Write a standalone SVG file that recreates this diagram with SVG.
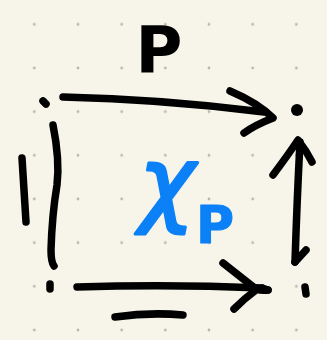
<svg xmlns="http://www.w3.org/2000/svg" width="327" height="340" viewBox="0 0 327 340">
<defs>
<style>
.ink{fill:none;stroke:#000;stroke-width:7.5;stroke-linecap:round;stroke-linejoin:round}
.dot{fill:#000}
.lbl{font-family:"DejaVu Sans","Liberation Sans",sans-serif;font-weight:bold;fill:#000}
.blue{font-family:"DejaVu Sans","Liberation Sans",sans-serif;fill:#0b80f7;stroke:#0b80f7;stroke-linejoin:round}
</style>
<pattern id="grid" patternUnits="userSpaceOnUse" x="12.5" y="2.5" width="43.67" height="43.67">
<circle cx="21.83" cy="21.83" r="1.4" fill="#b9b7ad"/>
</pattern>
</defs>
<rect width="327" height="340" fill="#f7f5e9"/>
<rect width="327" height="340" fill="url(#grid)"/>
<g id="nodes">
<g id="n-topleft"><path class="ink" d="M43,101 L46,104"/></g>
<g id="n-topright"><circle class="dot" cx="297" cy="110" r="6"/></g>
<g id="n-bottomleft"><path class="ink" d="M50,284 L50,289" stroke-width="9"/></g>
<g id="n-bottomright"><path class="ink" d="M305,287 L306,294"/></g>
</g>
<g id="connectors">
<g id="e-top"><path class="ink" d="M63,97 Q160,99 264,112"/><path class="ink" d="M230,91 Q258,103 273,118 Q255,125 244,133"/></g>
<g id="e-right"><path class="ink" d="M295,262 Q297,200 300,142"/><path class="ink" d="M295,262 L306,250"/><path class="ink" d="M273,175 Q288,155 298,140 Q306,150 312,162"/></g>
<g id="e-left"><path class="ink" d="M53,125 Q60,160 57,185 Q52,215 51,250 Q51,262 54,266" stroke-width="8.5"/></g>
<g id="e-bottom"><path class="ink" d="M77,287 Q170,284 262,288"/><path class="ink" d="M223,263 Q242,278 256,289 Q262,291 268,290"/><path class="ink" d="M256,290 Q245,298 234,309"/><path class="ink" d="M262,288 L268,290" stroke-width="11"/></g>
</g>
<g id="labels">
<g id="l-top"><text class="lbl" x="159" y="72" font-size="64" text-anchor="middle">P</text></g>
<g id="l-left"><path class="ink" d="M22,158 Q24,190 26,222" stroke-width="8.5"/></g>
<g id="l-bottom"><path class="ink" d="M115,317 Q150,312 183,315"/></g>
<g id="l-center"><text class="blue" x="167" y="214" font-size="94" font-style="italic" stroke-width="3" text-anchor="middle">χ</text><text class="blue" x="215" y="243" font-size="52" font-weight="bold" stroke-width="1" text-anchor="middle">P</text></g>
</g>
</svg>
